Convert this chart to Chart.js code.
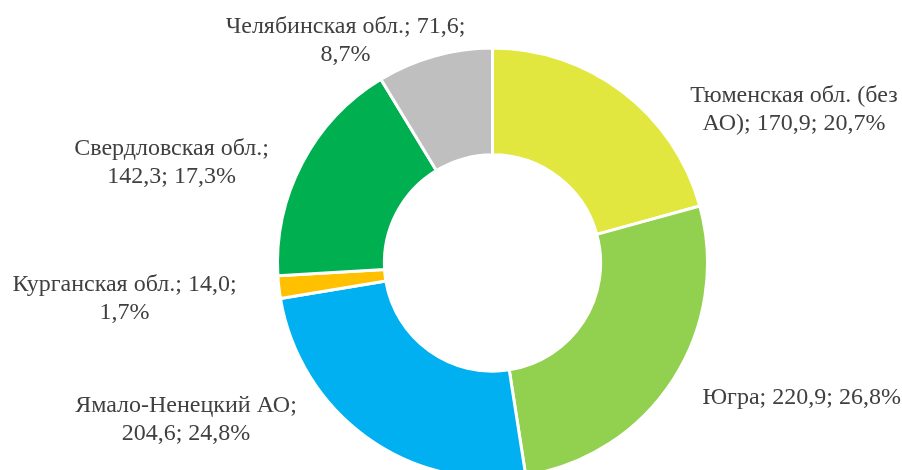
<!DOCTYPE html>
<html>
<head>
<meta charset="utf-8">
<script src="https://cdn.jsdelivr.net/npm/chart.js@4.4.0/dist/chart.umd.min.js"></script>
<style>
  body { margin: 0; background: #fff; overflow: hidden; }
</style>
</head>
<body>
<canvas id="donut" width="902" height="470"></canvas>
<script>
//Data
var regions = [
    'Тюменская обл. (без АО)',
    'Югра',
    'Ямало-Ненецкий АО',
    'Курганская обл.',
    'Свердловская обл.',
    'Челябинская обл.'
];
var values = [170.9, 220.9, 204.6, 14.0, 142.3, 71.6];
var sliceColors = ['#E2E740', '#92D050', '#00B0F0', '#FFC000', '#00B050', '#BFBFBF'];

//Where each label block sits, relative to the doughnut centre
var labelOffsets = [
    [301.5, -153.6],
    [309.2, 134.5],
    [-306.5, 156.7],
    [-368, 36.2],
    [-320.9, -100.1],
    [-147, -222.7]
];

var total = values.reduce(function(a, b){ return a + b; }, 0);

function fmt(n){
    return n.toFixed(1).replace('.', ',');
}

//Wrap text to a max width, word by word
function wrap(ctx, text, maxWidth){
    var words = text.split(' ');
    var lines = [];
    var line = '';
    for(var i = 0; i < words.length; i++){
        var test = line ? line + ' ' + words[i] : words[i];
        if(line && ctx.measureText(test).width > maxWidth){
            lines.push(line);
            line = words[i];
        } else {
            line = test;
        }
    }
    lines.push(line);
    return lines;
}

var labelPlugin = {
    id: 'sliceLabels',
    afterDatasetsDraw: function(chart){
        var ctx = chart.ctx;
        var arcs = chart.getDatasetMeta(0).data;
        ctx.save();
        ctx.font = '24px "Liberation Serif", "Times New Roman", serif';
        ctx.fillStyle = '#404040';
        ctx.textAlign = 'center';
        ctx.textBaseline = 'middle';
        var lineHeight = 28;
        for(var i = 0; i < arcs.length; i++){
            var text = regions[i] + '; ' + fmt(values[i]) + '; ' + fmt(values[i] / total * 100) + '%';
            var lines = wrap(ctx, text, 250);
            var cx = arcs[i].x + labelOffsets[i][0];
            var cy = arcs[i].y + labelOffsets[i][1];
            var top = cy - (lines.length - 1) * lineHeight / 2;
            for(var l = 0; l < lines.length; l++){
                ctx.fillText(lines[l], cx, top + l * lineHeight);
            }
        }
        ctx.restore();
    }
};

var ctx = document.getElementById('donut').getContext('2d');
var chart = new Chart(ctx, {
    type: 'doughnut',
    data: {
        labels: regions,
        datasets: [{
            data: values,
            backgroundColor: sliceColors,
            borderColor: '#ffffff',
            borderWidth: 3,
            hoverOffset: 0
        }]
    },
    options: {
        responsive: false,
        animation: false,
        radius: 215,
        cutout: '50.3%',
        layout: {
            padding: { left: 83, right: 0, top: 56, bottom: 0 }
        },
        plugins: {
            legend: { display: false },
            tooltip: { enabled: false }
        }
    },
    plugins: [labelPlugin]
});
</script>
</body>
</html>
